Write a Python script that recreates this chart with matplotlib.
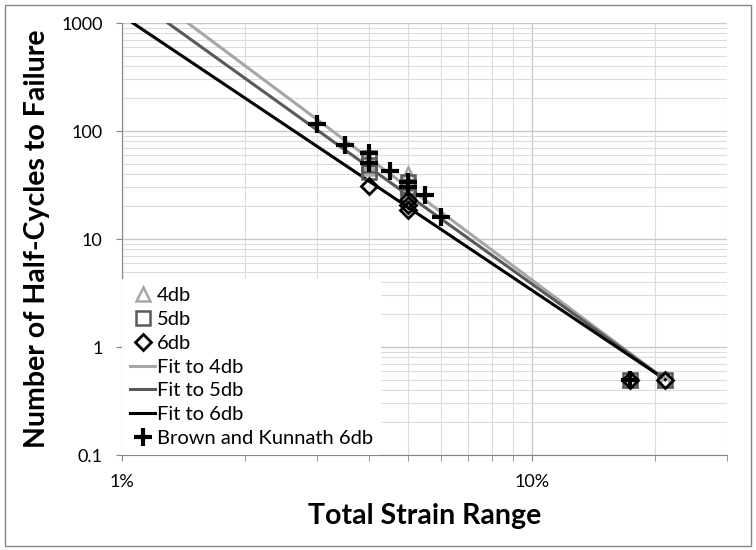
import matplotlib.pyplot as plt
from matplotlib.patches import Rectangle
from matplotlib.ticker import FixedLocator, FixedFormatter, LogLocator, NullFormatter

plt.rcParams['font.family'] = ['Lato', 'DejaVu Sans']

# test data (strain in %, half-cycles)
strain_4db = [4.0, 4.0, 5.0, 5.0, 17.4, 21.2]
cycles_4db = [52, 45, 40, 33, 0.5, 0.5]
strain_5db = [4.0, 4.0, 4.0, 5.0, 5.0, 5.0, 17.4, 21.2]
cycles_5db = [56, 48, 42, 34, 30, 26, 0.5, 0.5]
strain_6db = [4.0, 5.0, 5.0, 5.0, 17.4, 21.2]
cycles_6db = [31, 23, 20.5, 18.5, 0.5, 0.5]
bk_strain = [3.0, 3.5, 4.0, 4.0, 4.5, 5.0, 5.0, 5.5, 6.0, 17.4]
bk_cycles = [116, 74, 62, 51, 43, 34, 30, 25.5, 16, 0.5]

# trendline end points
fit4_x = [1.448, 21.2]
fit4_y = [1000, 0.5]
fit5_x = [1.294, 21.2]
fit5_y = [1000, 0.5]
fit6_x = [1.063, 21.2]
fit6_y = [1000, 0.5]

y_ticks = [0.1, 1, 10, 100, 1000]
y_labels = ['0.1', '1', '10', '100', '1000']
x_ticks = [1, 10]
x_labels = ['1%', '10%']


def main():
    fig = plt.figure(figsize=(7.56, 5.5), dpi=100)
    ax = fig.add_axes([122 / 756, 1 - 455 / 550, (727 - 122) / 756, (455 - 23) / 550])

    ax.plot(fit4_x, fit4_y, color='#a6a6a6', lw=2.2, label='Fit to 4db', zorder=3)
    ax.plot(fit5_x, fit5_y, color='#595959', lw=2.2, label='Fit to 5db', zorder=3)
    ax.plot(fit6_x, fit6_y, color='black', lw=2.2, label='Fit to 6db', zorder=3)

    ax.plot(strain_4db, cycles_4db, ls='none', marker='^', ms=10, mfc='none',
            mec='#a6a6a6', mew=1.8, label='4db', zorder=4)
    ax.plot(strain_5db, cycles_5db, ls='none', marker='s', ms=9.5, mfc='none',
            mec='#595959', mew=1.8, label='5db', zorder=5)
    ax.plot(strain_6db, cycles_6db, ls='none', marker='D', ms=8, mfc='none',
            mec='black', mew=2, label='6db', zorder=6)
    ax.plot(bk_strain, bk_cycles, ls='none', marker='+', ms=13, mec='black',
            mew=3, label='Brown and Kunnath 6db', zorder=7)

    ax.set_xscale('log')
    ax.set_yscale('log')
    ax.set_xlim(1, 30)
    ax.set_ylim(0.1, 1000)

    ax.yaxis.set_major_locator(FixedLocator(y_ticks))
    ax.yaxis.set_major_formatter(FixedFormatter(y_labels))
    ax.yaxis.set_minor_locator(LogLocator(base=10, subs=range(2, 10)))
    ax.yaxis.set_minor_formatter(NullFormatter())
    ax.xaxis.set_major_locator(FixedLocator(x_ticks))
    ax.xaxis.set_major_formatter(FixedFormatter(x_labels))
    ax.xaxis.set_minor_locator(LogLocator(base=10, subs=range(2, 10)))
    ax.xaxis.set_minor_formatter(NullFormatter())

    ax.grid(which='major', color='#c8c8c8', lw=1)
    ax.grid(which='minor', color='#dcdcdc', lw=0.8)
    ax.set_axisbelow(True)

    for s in ['top', 'right']:
        ax.spines[s].set_visible(False)
    for s in ['left', 'bottom']:
        ax.spines[s].set_color('#868686')
    ax.tick_params(axis='both', which='major', length=4, color='#868686',
                   labelsize=13, pad=10)
    ax.tick_params(axis='x', which='minor', length=4, color='#868686')
    ax.tick_params(axis='y', which='minor', length=0)

    ax.set_xlabel('Total Strain Range', fontsize=20.5, fontweight='bold', labelpad=9)
    ax.set_ylabel('Number of Half-Cycles to Failure', fontsize=20.5, fontweight='bold',
                  labelpad=8)

    handles, labels = ax.get_legend_handles_labels()
    order = ['4db', '5db', '6db', 'Fit to 4db', 'Fit to 5db', 'Fit to 6db',
             'Brown and Kunnath 6db']
    hl = dict(zip(labels, handles))
    leg = ax.legend([hl[k] for k in order], order, loc='lower left',
                    bbox_to_anchor=(0, 0), borderaxespad=0, fontsize=14.5,
                    handlelength=1.25, handletextpad=0.08, labelspacing=0.33,
                    borderpad=0.4, fancybox=False, framealpha=1,
                    edgecolor='none', facecolor='white')
    leg.set_zorder(10)

    fig.patches.append(Rectangle((5 / 756, 4 / 550), 746 / 756, 541 / 550,
                                 transform=fig.transFigure, fill=False,
                                 edgecolor='#868686', lw=1))

    fig.savefig('out.png', dpi=100)


if __name__ == '__main__':
    main()
